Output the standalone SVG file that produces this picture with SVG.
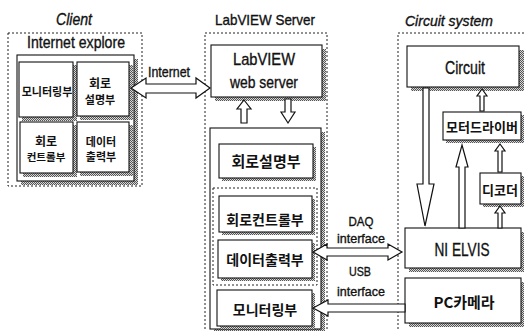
<svg xmlns="http://www.w3.org/2000/svg" width="524" height="331" viewBox="0 0 524 331">
<defs>
<pattern id="dith" width="2" height="2" patternUnits="userSpaceOnUse">
<rect width="2" height="2" fill="#d8d8d8"/>
<rect width="1" height="1" fill="#555"/>
<rect x="1" y="1" width="1" height="1" fill="#555"/>
</pattern>
</defs>
<style>
.dot{fill:none;stroke:#222;stroke-width:1;stroke-dasharray:2 2}
.box{fill:#fff;stroke:#111;stroke-width:1.1}
.sh{fill:url(#dith)}
.arr{fill:#fff;stroke:#111;stroke-width:1.2;stroke-linejoin:miter}
.lt{font-family:"Liberation Sans",Arial,sans-serif;fill:#111;stroke:#111;stroke-width:0.35;text-anchor:middle}
.it{font-style:italic}
.kr{font-family:"Noto Sans CJK KR","Noto Sans",sans-serif;font-weight:700;fill:#111;text-anchor:middle}
</style>
<rect width="524" height="331" fill="#fff"/>

<!-- Client -->
<g id="client">
<text class="lt it" x="74" y="25" font-size="16" textLength="36" lengthAdjust="spacingAndGlyphs">Client</text>
<rect class="dot" x="8" y="33" width="134" height="153"/>
<text class="lt" x="76" y="48" font-size="17" textLength="98" lengthAdjust="spacingAndGlyphs">Internet explore</text>
<rect class="sh" x="21" y="59" width="117" height="126"/>
<rect class="box" x="17" y="55" width="117" height="126"/>
</g>
<g id="c-monitor">
<rect class="sh" x="22" y="65" width="55" height="56"/>
<rect class="box" x="19" y="62" width="54" height="55"/>
<text class="kr" x="47" y="96" font-size="11">모니터링부</text>
</g>
<g id="c-circuit-desc">
<rect class="sh" x="80" y="65" width="53" height="55"/>
<rect class="box" x="77" y="62" width="52" height="54"/>
<text class="kr" x="100" y="88" font-size="12">회로</text>
<text class="kr" x="100" y="104" font-size="11">설명부</text>
</g>
<g id="c-control">
<rect class="sh" x="23" y="125" width="54" height="52"/>
<rect class="box" x="20" y="122" width="53" height="51"/>
<text class="kr" x="46" y="146" font-size="12">회로</text>
<text class="kr" x="46" y="161" font-size="10.5">컨트롤부</text>
</g>
<g id="c-data">
<rect class="sh" x="80" y="125" width="53" height="51"/>
<rect class="box" x="77" y="122" width="52" height="50"/>
<text class="kr" x="101" y="146" font-size="11">데이터</text>
<text class="kr" x="101" y="161" font-size="11">출력부</text>
</g>

<!-- LabVIEW Server -->
<g id="server">
<text class="lt" x="265" y="25" font-size="15" textLength="100" lengthAdjust="spacingAndGlyphs">LabVIEW Server</text>
<rect class="dot" x="205" y="33" width="122" height="300"/>
</g>
<g id="web-server">
<rect class="sh" x="215" y="49" width="111" height="52"/>
<rect class="box" x="211" y="45" width="111" height="52"/>
<text class="lt" x="264" y="65" font-size="17" textLength="62" lengthAdjust="spacingAndGlyphs">LabVIEW</text>
<text class="lt" x="264" y="88" font-size="17" textLength="68" lengthAdjust="spacingAndGlyphs">web server</text>
</g>
<g id="server-modules">
<rect class="sh" x="214" y="132" width="111" height="200"/>
<rect class="box" x="210" y="128" width="111" height="201"/>
</g>
<g id="s-circuit-desc">
<rect class="sh" x="222" y="147" width="94" height="34"/>
<rect class="box" x="219" y="144" width="94" height="34"/>
<text class="kr" x="266" y="167" font-size="15">회로설명부</text>
</g>
<g id="s-group">
<rect class="dot" x="213" y="188" width="104" height="97"/>
</g>
<g id="s-control">
<rect class="sh" x="222" y="199" width="93" height="36"/>
<rect class="box" x="219" y="196" width="93" height="36"/>
<text class="kr" x="265" y="225" font-size="14">회로컨트롤부</text>
</g>
<g id="s-data">
<rect class="sh" x="221" y="243" width="94" height="38"/>
<rect class="box" x="218" y="240" width="94" height="38"/>
<text class="kr" x="265" y="265" font-size="14">데이터출력부</text>
</g>
<g id="s-monitor">
<rect class="sh" x="220" y="293" width="95" height="36"/>
<rect class="box" x="217" y="290" width="95" height="36"/>
<text class="kr" x="265" y="315" font-size="14">모니터링부</text>
</g>

<!-- Circuit system -->
<g id="circuit-system">
<text class="lt it" x="449" y="26" font-size="15" textLength="88" lengthAdjust="spacingAndGlyphs">Circuit system</text>
<rect class="dot" x="398" y="33" width="140" height="300"/>
</g>
<g id="circuit">
<rect class="sh" x="411" y="50" width="113" height="41"/>
<rect class="box" x="407" y="46" width="112" height="41"/>
<text class="lt" x="465" y="74" font-size="18" textLength="40" lengthAdjust="spacingAndGlyphs">Circuit</text>
</g>
<g id="motor-driver">
<rect class="sh" x="446" y="115" width="78" height="28"/>
<rect class="box" x="443" y="112" width="78" height="28"/>
<text class="kr" x="482" y="132" font-size="13">모터드라이버</text>
</g>
<g id="decoder">
<rect class="sh" x="483" y="176" width="41" height="31"/>
<rect class="box" x="480" y="173" width="41" height="31"/>
<text class="kr" x="500" y="195" font-size="13">디코더</text>
</g>
<g id="ni-elvis">
<rect class="sh" x="409" y="232" width="115" height="40"/>
<rect class="box" x="405" y="228" width="116" height="40"/>
<text class="lt" x="462" y="256" font-size="19" textLength="55" lengthAdjust="spacingAndGlyphs">NI ELVIS</text>
</g>
<g id="pc-camera">
<rect class="sh" x="409" y="282" width="115" height="45"/>
<rect class="box" x="405" y="278" width="116" height="45"/>
<text class="kr" x="464" y="308" font-size="15">PC카메라</text>
</g>

<!-- connectors -->
<g id="connectors">
<text class="lt" x="169" y="77" font-size="14" textLength="42" lengthAdjust="spacingAndGlyphs">Internet</text>
<path class="arr" d="M131,88 L146,78 L146,84 L196,84 L196,78 L210,88 L196,98 L196,93 L146,93 L146,98 Z"/>
<path class="arr" d="M244,100 L251,109 L247,109 L247,123 L241,123 L241,109 L237,109 Z"/>
<path class="arr" d="M285,99 L291,99 L291,112 L295,112 L288,123 L281,112 L285,112 Z"/>
<text class="lt" x="361" y="226" font-size="13" textLength="25" lengthAdjust="spacingAndGlyphs">DAQ</text>
<text class="lt" x="361" y="243" font-size="13" textLength="48" lengthAdjust="spacingAndGlyphs">interface</text>
<path class="arr" d="M313,252 L327,244 L327,248 L388,248 L388,244 L402,252 L388,260 L388,256 L327,256 L327,260 Z"/>
<text class="lt" x="360" y="276" font-size="13" textLength="22" lengthAdjust="spacingAndGlyphs">USB</text>
<text class="lt" x="361" y="296" font-size="13" textLength="48" lengthAdjust="spacingAndGlyphs">interface</text>
<path class="arr" d="M313,308 L328,300 L328,304 L405,304 L405,312 L328,312 L328,316 Z"/>
<path class="arr" d="M423,88 L429,88 L429,184 L434,184 L425,226 L417,184 L423,184 Z"/>
<path class="arr" d="M462,145 L468,167 L465,167 L465,228 L459,228 L459,167 L456,167 Z"/>
<path class="arr" d="M482,89 L487,96 L484,96 L484,111 L480,111 L480,96 L477,96 Z"/>
<path class="arr" d="M500,144 L505,151 L502,151 L502,172 L498,172 L498,151 L495,151 Z"/>
<path class="arr" d="M500,206 L505,213 L502,213 L502,228 L498,228 L498,213 L495,213 Z"/>
</g>
</svg>
